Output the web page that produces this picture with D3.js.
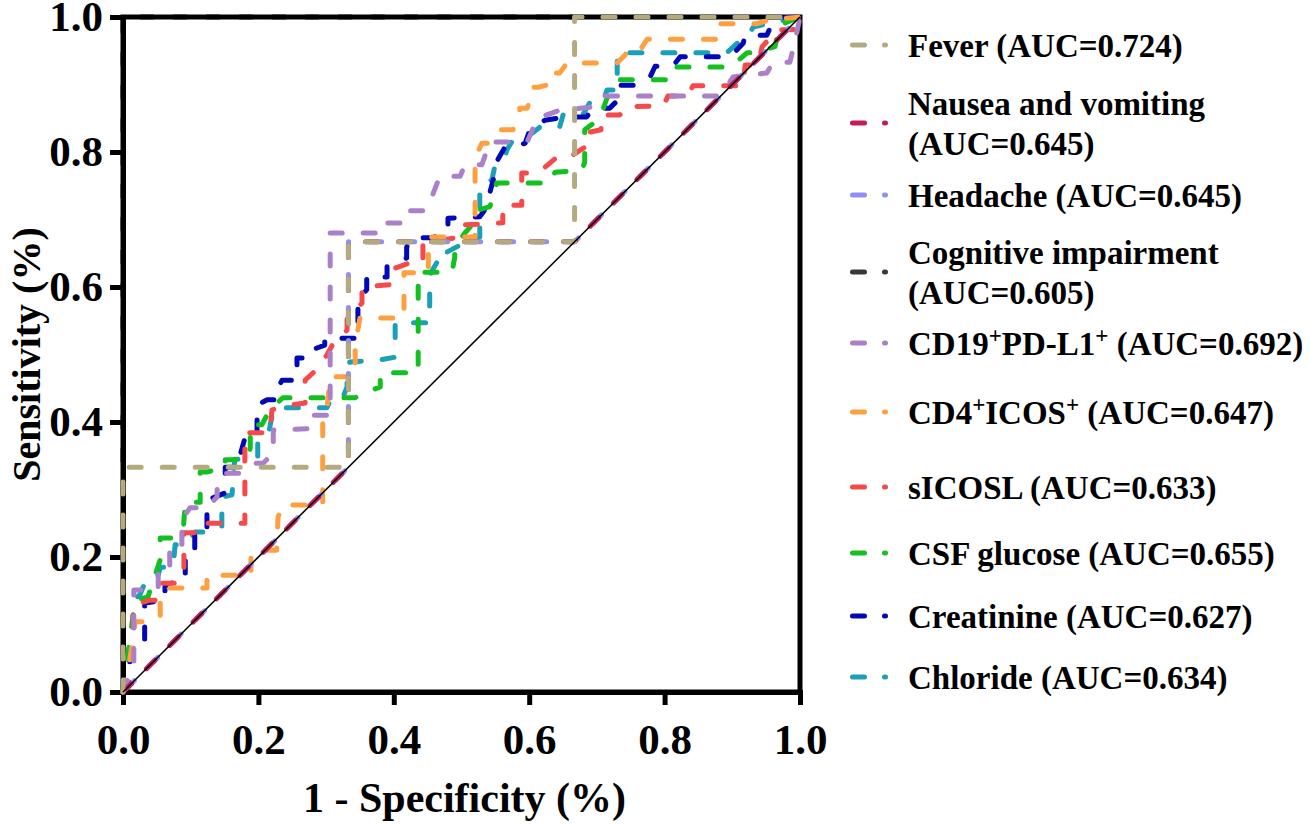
<!DOCTYPE html>
<html>
<head>
<meta charset="utf-8">
<script src="https://cdn.jsdelivr.net/npm/d3@7"></script>
<style>
body { margin: 0; background: #fff; }
text { font-family: "Liberation Serif", "Times New Roman", serif; font-weight: bold; }
</style>
</head>
<body>
<div id="chart"></div>
<script>
/* ROC points: [1 - specificity, sensitivity] */
const fever = [[0,0],[0,0.333],[0.333,0.333],[0.333,0.667],[0.667,0.667],[0.667,1],[1,1]];
const nausea = [[0,0],[0.333,0.333],[0.333,0.667],[0.667,0.667],[1,1]];
const headache = [[0,0],[0.333,0.333],[0.333,0.667],[0.667,0.667],[1,1]];
const cognitive = [[0,0],[0,1],[1,1]];
const cd19 = [[0,0],[0.016,0.04],[0.016,0.151],[0.052,0.151],[0.052,0.188],[0.069,0.188],[0.069,0.218],[0.087,0.218],
  [0.087,0.255],[0.099,0.273],[0.124,0.273],[0.139,0.289],[0.139,0.304],[0.148,0.324],[0.173,0.324],[0.192,0.339],
  [0.207,0.339],[0.222,0.354],[0.222,0.388],[0.276,0.390],[0.276,0.410],[0.306,0.410],[0.306,0.680],[0.377,0.680],
  [0.380,0.695],[0.414,0.695],[0.417,0.713],[0.446,0.713],[0.456,0.733],[0.468,0.764],[0.498,0.764],[0.505,0.781],
  [0.530,0.781],[0.542,0.815],[0.597,0.815],[0.612,0.850],[0.645,0.862],[0.697,0.867],[0.709,0.883],[0.882,0.883],
  [0.901,0.911],[0.951,0.917],[0.960,0.933],[0.985,0.933],[0.993,0.966],[1,1]];
const cd4 = [[0,0],[0.010,0.047],[0.018,0.104],[0.037,0.104],[0.055,0.111],[0.055,0.136],[0.062,0.154],[0.124,0.154],
  [0.124,0.173],[0.189,0.173],[0.189,0.200],[0.195,0.210],[0.227,0.210],[0.229,0.259],[0.236,0.277],[0.295,0.277],
  [0.295,0.403],[0.301,0.418],[0.306,0.467],[0.343,0.467],[0.343,0.514],[0.350,0.554],[0.415,0.554],[0.415,0.621],
  [0.451,0.621],[0.451,0.674],[0.520,0.674],[0.520,0.791],[0.530,0.813],[0.542,0.813],[0.557,0.833],[0.576,0.833],
  [0.586,0.852],[0.586,0.865],[0.597,0.865],[0.604,0.887],[0.604,0.896],[0.613,0.896],[0.638,0.902],[0.638,0.917],
  [0.645,0.917],[0.656,0.932],[0.730,0.932],[0.742,0.944],[0.744,0.951],[0.764,0.951],[0.774,0.967],[0.879,0.967],
  [0.879,0.990],[0.936,0.990],[0.956,0.996],[1,1]];
const sicosl = [[0,0],[0.007,0.040],[0.015,0.062],[0.015,0.129],[0.040,0.136],[0.050,0.136],[0.055,0.161],[0.080,0.161],
  [0.090,0.176],[0.090,0.236],[0.114,0.236],[0.118,0.250],[0.180,0.250],[0.180,0.384],[0.217,0.384],[0.220,0.418],
  [0.247,0.425],[0.269,0.428],[0.269,0.462],[0.281,0.473],[0.301,0.499],[0.313,0.521],[0.331,0.536],[0.331,0.556],
  [0.353,0.576],[0.353,0.600],[0.399,0.604],[0.402,0.628],[0.424,0.636],[0.443,0.636],[0.443,0.665],[0.498,0.674],
  [0.505,0.692],[0.561,0.695],[0.561,0.721],[0.589,0.721],[0.589,0.769],[0.613,0.769],[0.631,0.784],[0.645,0.796],
  [0.665,0.796],[0.682,0.807],[0.682,0.828],[0.706,0.833],[0.706,0.855],[0.734,0.855],[0.742,0.867],[0.798,0.868],
  [0.805,0.883],[0.833,0.883],[0.842,0.898],[0.916,0.898],[0.919,0.929],[0.938,0.929],[0.944,0.956],[0.967,0.981],
  [0.990,0.981],[1,1]];
const csfGlucose = [[0,0],[0.010,0.077],[0.018,0.136],[0.037,0.141],[0.040,0.151],[0.055,0.196],[0.055,0.228],[0.072,0.228],
  [0.089,0.240],[0.092,0.281],[0.114,0.281],[0.114,0.326],[0.124,0.326],[0.136,0.329],[0.151,0.333],[0.151,0.344],
  [0.161,0.344],[0.185,0.347],[0.188,0.362],[0.188,0.396],[0.205,0.396],[0.217,0.418],[0.236,0.436],[0.343,0.436],
  [0.357,0.443],[0.380,0.452],[0.380,0.473],[0.436,0.473],[0.436,0.622],[0.486,0.622],[0.490,0.644],[0.490,0.659],
  [0.505,0.680],[0.513,0.689],[0.524,0.714],[0.542,0.719],[0.549,0.744],[0.552,0.754],[0.631,0.754],[0.638,0.770],
  [0.678,0.773],[0.682,0.785],[0.682,0.833],[0.697,0.844],[0.705,0.852],[0.715,0.880],[0.727,0.895],[0.734,0.907],
  [0.812,0.907],[0.818,0.926],[0.897,0.926],[0.922,0.947],[0.931,0.947],[0.963,0.956],[0.970,0.988],[1,1]];
const creatinine = [[0,0],[0.010,0.010],[0.010,0.047],[0.018,0.077],[0.032,0.077],[0.032,0.132],[0.062,0.136],[0.062,0.156],
  [0.081,0.166],[0.092,0.166],[0.092,0.207],[0.106,0.210],[0.106,0.240],[0.124,0.240],[0.124,0.284],[0.151,0.295],
  [0.151,0.333],[0.168,0.333],[0.180,0.376],[0.198,0.376],[0.198,0.425],[0.213,0.433],[0.227,0.433],[0.227,0.447],
  [0.235,0.462],[0.257,0.462],[0.257,0.495],[0.272,0.495],[0.272,0.504],[0.298,0.514],[0.298,0.524],[0.347,0.524],
  [0.347,0.581],[0.360,0.596],[0.360,0.615],[0.390,0.615],[0.390,0.630],[0.419,0.643],[0.419,0.659],[0.428,0.673],
  [0.458,0.673],[0.480,0.684],[0.480,0.702],[0.527,0.704],[0.538,0.719],[0.539,0.729],[0.547,0.759],[0.551,0.784],
  [0.564,0.807],[0.576,0.807],[0.594,0.813],[0.601,0.833],[0.623,0.847],[0.656,0.852],[0.685,0.852],[0.694,0.865],
  [0.719,0.865],[0.734,0.880],[0.734,0.899],[0.756,0.899],[0.771,0.904],[0.778,0.910],[0.786,0.927],[0.812,0.927],
  [0.823,0.941],[0.897,0.941],[0.916,0.961],[0.919,0.973],[0.951,0.973],[0.956,0.984],[0.975,0.999],[1,1]];
const chloride = [[0,0],[0.006,0.018],[0.006,0.037],[0.015,0.067],[0.015,0.136],[0.025,0.144],[0.032,0.161],[0.044,0.161],
  [0.052,0.173],[0.055,0.185],[0.074,0.185],[0.077,0.218],[0.092,0.218],[0.106,0.237],[0.124,0.237],[0.146,0.244],
  [0.146,0.289],[0.161,0.292],[0.165,0.344],[0.183,0.347],[0.199,0.348],[0.199,0.369],[0.214,0.378],[0.217,0.393],
  [0.222,0.418],[0.229,0.421],[0.301,0.421],[0.309,0.437],[0.325,0.437],[0.331,0.452],[0.331,0.473],[0.335,0.489],
  [0.380,0.492],[0.402,0.496],[0.402,0.547],[0.453,0.547],[0.453,0.618],[0.464,0.637],[0.479,0.637],[0.479,0.652],
  [0.498,0.662],[0.527,0.674],[0.527,0.748],[0.545,0.759],[0.549,0.778],[0.564,0.791],[0.567,0.803],[0.576,0.818],
  [0.597,0.822],[0.616,0.837],[0.645,0.837],[0.650,0.855],[0.679,0.855],[0.690,0.874],[0.709,0.874],[0.715,0.892],
  [0.730,0.892],[0.730,0.947],[0.892,0.947],[0.907,0.961],[0.922,0.970],[0.931,0.985],[0.956,0.991],[1,1]];

/* legend texts, "^" marks a superscript character; one entry per line */
const labels = [
  ["Fever (AUC=0.724)"],
  ["Nausea and vomiting", "(AUC=0.645)"],
  ["Headache (AUC=0.645)"],
  ["Cognitive impairment", "(AUC=0.605)"],
  ["CD19^+PD-L1^+ (AUC=0.692)"],
  ["CD4^+ICOS^+ (AUC=0.647)"],
  ["sICOSL (AUC=0.633)"],
  ["CSF glucose (AUC=0.655)"],
  ["Creatinine (AUC=0.627)"],
  ["Chloride (AUC=0.634)"]
];
const curves = [fever, nausea, headache, cognitive, cd19, cd4, sicosl, csfGlucose, creatinine, chloride];
const colors = ["#b4aa80", "#c8195c", "#9090f0", "#383838", "#aa80c8", "#ffa040", "#f64a4a", "#12c020", "#0008b8", "#1aa0b8"];
const ticks = [0, 0.2, 0.4, 0.6, 0.8, 1.0];

/* layout */
const width = 1310, height = 824;
const plot = { left: 123, right: 800, top: 17, bottom: 692 };
const legendY = [45, 123, 195, 272, 343, 412, 487, 553, 616, 677]; // sample line y per entry
const lineGap = 40;

const svg = d3.select("#chart").append("svg")
    .attr("width", width)
    .attr("height", height);

const xScale = d3.scaleLinear().domain([0, 1]).range([plot.left, plot.right]);
const yScale = d3.scaleLinear().domain([0, 1]).range([plot.bottom, plot.top]);

let line = d3.line().x(d => xScale(d[0])).y(d => yScale(d[1]));

function drawCurve(i) {
    svg.append("path")
        .datum(curves[i])
        .attr("d", line)
        .attr("fill", "none")
        .attr("stroke", colors[i])
        .attr("stroke-width", 5)
        .attr("stroke-linecap", "round")
        .attr("stroke-linejoin", "round")
        .attr("stroke-dasharray", "12,21")
        .attr("stroke-dashoffset", i == 2 ? -4 : 0); // headache shows just behind nausea
}

// cognitive impairment runs along the frame, so it sits under it
drawCurve(3);

// frame (top and right edges)
svg.append("rect")
    .attr("x", plot.left).attr("y", plot.top)
    .attr("width", plot.right - plot.left)
    .attr("height", plot.bottom - plot.top)
    .attr("fill", "none").attr("stroke", "#000").attr("stroke-width", 5);

// axes
let xAxis = svg.append("g")
    .attr("transform", `translate(0,${plot.bottom})`)
    .call(d3.axisBottom(xScale).tickValues(ticks).tickFormat(d3.format(".1f"))
        .tickSize(13).tickSizeOuter(0).tickPadding(18));
let yAxis = svg.append("g")
    .attr("transform", `translate(${plot.left},0)`)
    .call(d3.axisLeft(yScale).tickValues(ticks).tickFormat(d3.format(".1f"))
        .tickSize(13).tickSizeOuter(0).tickPadding(7));

[xAxis, yAxis].forEach(function(g) {
    g.select(".domain").attr("stroke-width", 5).attr("stroke-linecap", "square");
    g.selectAll(".tick line").attr("stroke-width", 5);
    g.selectAll(".tick text")
        .attr("font-size", 43)
        .attr("font-family", "Liberation Serif")
        .attr("font-weight", "bold")
        .attr("fill", "#000");
});

// axis titles
svg.append("text")
    .attr("x", (plot.left + plot.right) / 2 + 3).attr("y", 812)
    .attr("text-anchor", "middle").attr("font-size", 42)
    .text("1 - Specificity (%)");
svg.append("text")
    .attr("transform", `translate(40,${(plot.top + plot.bottom) / 2}) rotate(-90)`)
    .attr("text-anchor", "middle").attr("font-size", 40)
    .text("Sensitivity (%)");

// remaining curves: last legend entry first so Fever ends on top
d3.range(curves.length).reverse().forEach(function(i) {
    if (i != 3) drawCurve(i);
});

// reference line
svg.append("line")
    .attr("x1", xScale(0)).attr("y1", yScale(0))
    .attr("x2", xScale(1)).attr("y2", yScale(1))
    .attr("stroke", "#000").attr("stroke-width", 1.5);

// legend
function addLabel(textSel, str) {
    let parts = str.split(/(\^.)/).filter(s => s.length > 0);
    parts.forEach(function(p) {
        if (p[0] == "^") {
            textSel.append("tspan").attr("baseline-shift", "super").attr("font-size", 23).text(p[1]);
        } else {
            textSel.append("tspan").text(p);
        }
    });
}

labels.forEach(function(lines, i) {
    let y = legendY[i];
    svg.append("line")
        .attr("x1", 852.5).attr("x2", 885.5)
        .attr("y1", y).attr("y2", y)
        .attr("stroke", colors[i]).attr("stroke-width", 5)
        .attr("stroke-linecap", "round")
        .attr("stroke-dasharray", "12,20");
    let first = lines.length == 1 ? y + 12 : y - 8;
    lines.forEach(function(str, k) {
        let t = svg.append("text")
            .attr("x", 908).attr("y", first + k * lineGap)
            .attr("font-size", 33).attr("fill", "#000");
        addLabel(t, str);
    });
});
</script>
</body>
</html>
